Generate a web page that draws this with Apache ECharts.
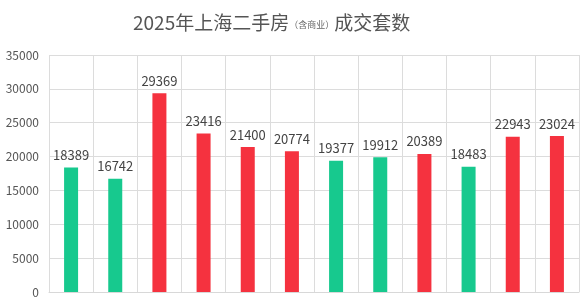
<!DOCTYPE html>
<html>
<head>
<meta charset="utf-8">
<script src="https://cdn.jsdelivr.net/npm/echarts@6/dist/echarts.min.js"></script>
<style>
  html, body { margin: 0; padding: 0; background: #fff; }
  #chart { width: 586px; height: 300px; }
</style>
</head>
<body>
<div id="chart"></div>
<script>
// 月份（横轴不显示标签）
let months = ['1月', '2月', '3月', '4月', '5月', '6月', '7月', '8月', '9月', '10月', '11月', '12月'];
// 成交套数
let deals = [18389, 16742, 29369, 23416, 21400, 20774, 19377, 19912, 20389, 18483, 22943, 23024];
// 红色柱 = true，绿色柱 = false
let isRed = [false, false, true, true, true, true, false, false, true, false, true, true];

const GREEN = '#17c98e';
const RED = '#f5323f';

window.onload = function() {
    let chart = echarts.init(document.getElementById('chart'));
    let option = {
        animation: false,
        title: {
            text: '2025年上海二手房{s|（含商业）}成交套数',
            left: 128,
            top: 8,
            textStyle: {
                color: '#555',
                fontWeight: 'normal',
                fontSize: 19,
                fontFamily: 'Noto Sans CJK SC',
                rich: {
                    s: { fontSize: 9, color: '#666', fontFamily: 'Noto Sans CJK SC', padding: [4, 0, 0, 0] }
                }
            }
        },
        grid: {
            left: 49,
            right: 7,
            top: 55,
            bottom: 8
        },
        xAxis: {
            type: 'category',
            data: months,
            axisLabel: { show: false },
            axisTick: { show: false },
            axisLine: { lineStyle: { color: '#d8d8d8' } },
            splitLine: { show: true, lineStyle: { color: '#dcdcdc' } }
        },
        yAxis: {
            type: 'value',
            min: 0,
            max: 35000,
            interval: 5000,
            axisLine: { show: false },
            axisTick: { show: false },
            axisLabel: {
                color: '#555',
                fontSize: 12,
                margin: 10,
                fontFamily: 'Noto Sans CJK SC',
                formatter: v => String(v)
            },
            splitLine: { lineStyle: { color: '#dcdcdc' } }
        },
        series: [{
            type: 'bar',
            barWidth: 14,
            data: deals.map((v, i) => ({
                value: v,
                itemStyle: { color: isRed[i] ? RED : GREEN }
            })),
            label: {
                show: true,
                position: 'top',
                distance: 6,
                color: '#444',
                fontSize: 13,
                fontFamily: 'Noto Sans CJK SC'
            }
        }]
    };
    chart.setOption(option);
};
</script>
</body>
</html>
